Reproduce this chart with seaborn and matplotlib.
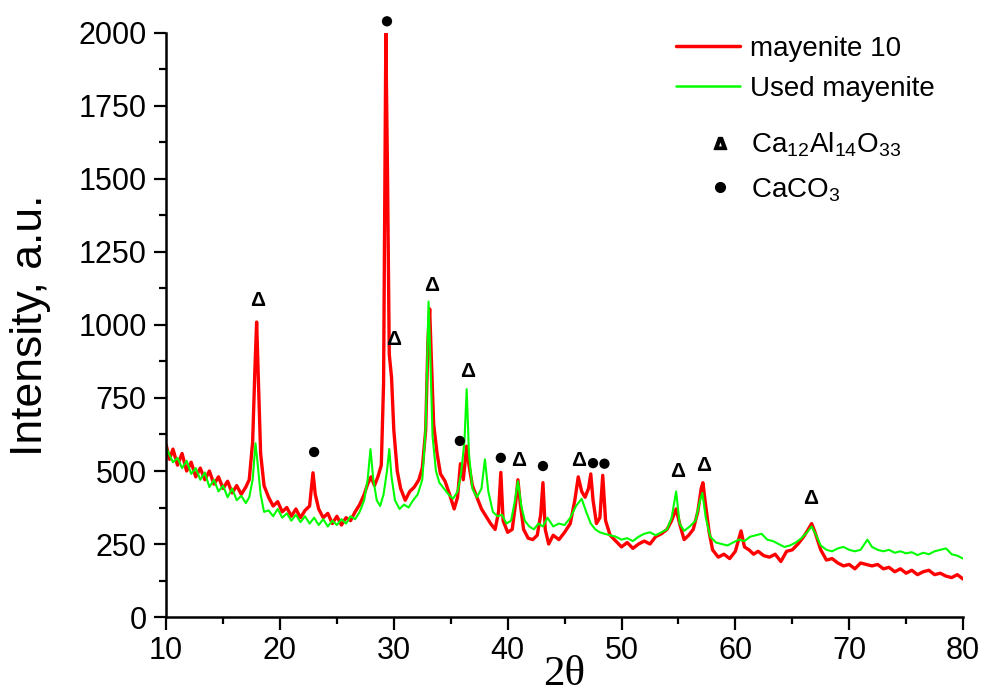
import matplotlib
matplotlib.use('Agg')
import matplotlib.pyplot as plt
import seaborn as sns
from matplotlib.lines import Line2D
from matplotlib.ticker import MultipleLocator

# XRD patterns (2theta, intensity a.u.)
fresh_2t = [10.0, 10.3, 10.6, 11.0, 11.4, 11.8, 12.2, 12.6, 13.0, 13.4, 13.8, 14.2, 14.6, 15.0,
            15.4, 15.8, 16.2, 16.6, 17.0, 17.3, 17.6, 17.8, 17.95, 18.1, 18.3, 18.6, 19.0, 19.4,
            19.8, 20.2, 20.6, 21.0, 21.4, 21.8, 22.2, 22.6, 22.9, 23.1, 23.4, 23.8, 24.2, 24.6,
            25.0, 25.4, 25.8, 26.2, 26.6, 27.0, 27.4, 27.7, 28.0, 28.3, 28.6, 28.9, 29.1, 29.3,
            29.45, 29.6, 29.8, 30.0, 30.3, 30.6, 31.0, 31.4, 31.8, 32.2, 32.5, 32.8, 33.0, 33.15,
            33.3, 33.5, 33.8, 34.1, 34.5, 34.9, 35.3, 35.6, 35.85, 36.1, 36.4, 36.6, 36.9, 37.3,
            37.7, 38.1, 38.5, 38.9, 39.2, 39.4, 39.6, 40.0, 40.4, 40.7, 40.9, 41.1, 41.4, 41.8,
            42.2, 42.6, 42.9, 43.1, 43.3, 43.6, 44.0, 44.5, 45.0, 45.5, 45.9, 46.2, 46.5, 46.8,
            47.1, 47.3, 47.5, 47.8, 48.1, 48.35, 48.6, 49.0, 49.5, 50.0, 50.5, 51.0, 51.5, 52.0,
            52.5, 53.0, 53.5, 54.0, 54.4, 54.8, 55.1, 55.5, 55.9, 56.3, 56.7, 57.0, 57.15, 57.4,
            57.7, 58.0, 58.5, 59.0, 59.5, 60.0, 60.5, 60.8, 61.2, 61.6, 62.0, 62.5, 63.0, 63.5,
            64.0, 64.5, 65.0, 65.5, 66.0, 66.4, 66.7, 67.0, 67.5, 68.0, 68.5, 69.0, 69.5, 70.0,
            70.5, 71.0, 71.5, 72.0, 72.5, 73.0, 73.5, 74.0, 74.5, 75.0, 75.5, 76.0, 76.5, 77.0,
            77.5, 78.0, 78.5, 79.0, 79.5, 80.0]
fresh_int = [590, 540, 575, 520, 560, 500, 530, 480, 510, 470, 500, 455, 480, 440,
             465, 425, 450, 420, 445, 470, 600, 850, 1010, 820, 560, 450, 410, 380,
             395, 360, 375, 345, 370, 340, 365, 380, 494, 420, 370, 340, 355, 320,
             345, 315, 340, 330, 360, 385, 420, 455, 480, 450, 480, 520, 800, 2000,
             1500, 900, 820, 640, 500, 440, 400, 430, 445, 470, 510, 640, 950, 1055,
             880, 660, 560, 490, 465, 420, 370, 410, 525, 470, 585, 520, 450, 410,
             370, 345, 320, 300, 360, 495, 330, 290, 300, 390, 470, 390, 300, 270,
             265, 280, 350, 460, 300, 250, 280, 265, 290, 320, 400, 480, 430, 410,
             440, 490, 400, 320, 340, 485, 330, 280, 260, 240, 255, 235, 250, 260,
             250, 275, 285, 300, 330, 370, 320, 265, 280, 300, 360, 440, 460, 380,
             290, 230, 205, 215, 200, 225, 295, 240, 230, 215, 225, 210, 205, 215,
             190, 225, 230, 250, 275, 300, 320, 290, 230, 195, 200, 185, 175, 180,
             165, 185, 180, 175, 180, 165, 170, 155, 165, 150, 160, 145, 155, 160,
             145, 150, 140, 135, 145, 130]

used_2t = [10.0, 10.3, 10.6, 11.0, 11.4, 11.8, 12.2, 12.6, 13.0, 13.4, 13.8, 14.2, 14.6, 15.0,
           15.4, 15.8, 16.2, 16.6, 17.0, 17.3, 17.6, 17.85, 18.0, 18.3, 18.6, 19.0, 19.4, 19.8,
           20.2, 20.6, 21.0, 21.4, 21.8, 22.2, 22.6, 23.0, 23.4, 23.8, 24.2, 24.6, 25.0, 25.4,
           25.8, 26.2, 26.6, 27.0, 27.4, 27.7, 27.95, 28.2, 28.5, 28.8, 29.1, 29.4, 29.6, 29.8,
           30.1, 30.5, 30.9, 31.3, 31.7, 32.1, 32.5, 32.8, 33.05, 33.2, 33.4, 33.7, 34.0, 34.4,
           34.8, 35.2, 35.6, 35.9, 36.2, 36.4, 36.6, 36.9, 37.3, 37.7, 38.0, 38.3, 38.7, 39.1,
           39.5, 39.9, 40.3, 40.6, 40.9, 41.2, 41.5, 41.9, 42.3, 42.7, 43.1, 43.5, 44.0, 44.5,
           45.0, 45.5, 46.0, 46.5, 46.9, 47.3, 47.7, 48.1, 48.5, 49.0, 49.5, 50.0, 50.5, 51.0,
           51.5, 52.0, 52.5, 53.0, 53.5, 54.0, 54.4, 54.8, 55.1, 55.5, 56.0, 56.5, 56.9, 57.1,
           57.4, 57.8, 58.3, 58.8, 59.3, 59.8, 60.3, 60.8, 61.3, 61.8, 62.3, 62.8, 63.3, 63.8,
           64.3, 64.8, 65.3, 65.8, 66.3, 66.7, 67.1, 67.5, 68.0, 68.5, 69.0, 69.5, 70.0, 70.5,
           71.0, 71.6, 72.0, 72.5, 73.0, 73.5, 74.0, 74.5, 75.0, 75.5, 76.0, 76.5, 77.0, 77.5,
           78.0, 78.5, 79.0, 79.5, 80.0]
used_int = [580, 555, 530, 545, 510, 535, 490, 510, 470, 495, 445, 470, 430, 450,
            410, 440, 400, 415, 390, 410, 470, 595, 540, 420, 360, 365, 345, 370,
            340, 355, 330, 350, 325, 345, 320, 340, 315, 335, 310, 330, 315, 335,
            320, 345, 335, 360, 400, 470, 575, 470, 400, 380, 420, 500, 575, 480,
            400, 370, 385, 375, 400, 420, 470, 650, 1080, 900, 620, 500, 460, 440,
            420, 405, 430, 490, 600, 780, 560, 440, 410, 440, 540, 430, 360, 345,
            350, 320, 330, 390, 465, 380, 330, 310, 300, 320, 310, 340, 310, 320,
            315, 340, 380, 405, 360, 320, 300, 290, 285, 280, 275, 265, 270, 260,
            275, 285, 290, 280, 290, 300, 340, 430, 320, 295, 310, 330, 400, 425,
            340, 275, 255, 250, 245, 255, 265, 260, 275, 280, 285, 265, 260, 250,
            240, 245, 255, 270, 290, 310, 280, 245, 230, 225, 235, 240, 230, 225,
            230, 265, 240, 230, 225, 230, 220, 225, 218, 222, 212, 220, 215, 225,
            230, 235, 215, 210, 200]

# phase markers
delta_x = [18.0, 30.0, 33.3, 36.5, 41.0, 46.2, 54.9, 57.2, 66.6]
delta_y = [1085, 950, 1135, 840, 535, 535, 500, 520, 405]
dot_x = [29.4, 23.0, 35.8, 39.4, 43.1, 47.5, 48.5]
dot_y = [2040, 565, 603, 545, 517, 527, 525]

sns.set_style('ticks')
plt.rcParams['font.family'] = ['Liberation Sans', 'DejaVu Sans']
plt.rcParams['mathtext.default'] = 'regular'
for key in ['text.color', 'axes.labelcolor', 'xtick.color', 'ytick.color', 'axes.edgecolor']:
    plt.rcParams[key] = 'black'

fig = plt.figure(figsize=(9.83, 6.96), dpi=100)
ax = fig.add_axes([0.169, 0.1135, 0.8107, 0.8391])

sns.lineplot(x=fresh_2t, y=fresh_int, ax=ax, color='#ff0000', lw=2.4, sort=False)
sns.lineplot(x=used_2t, y=used_int, ax=ax, color='#00ff00', lw=1.5, sort=False)

for x, y in zip(delta_x, delta_y):
    ax.text(x, y, '\u0394', ha='center', va='center', fontsize=15,
            fontweight='bold', color='black')
sns.scatterplot(x=dot_x, y=dot_y, ax=ax, color='black', s=55, edgecolor='none',
                clip_on=False, zorder=5)

ax.set_xlim(10, 80)
ax.set_ylim(0, 2000)
ax.xaxis.set_major_locator(MultipleLocator(10))
ax.xaxis.set_minor_locator(MultipleLocator(5))
ax.yaxis.set_major_locator(MultipleLocator(250))
ax.yaxis.set_minor_locator(MultipleLocator(125))
ax.tick_params(which='major', length=9, width=1.6, labelsize=22, pad=5, direction='out')
ax.tick_params(which='minor', length=5, width=1.6, direction='out')
for side in ['top', 'right']:
    ax.spines[side].set_visible(False)
for side in ['left', 'bottom']:
    ax.spines[side].set_linewidth(1.8)

ax.set_ylabel('Intensity, a.u.', fontsize=32, labelpad=20)
ax.set_xlabel('2\u03b8', fontsize=31, family=['Liberation Serif', 'DejaVu Serif'], labelpad=-8)

h1 = [Line2D([], [], color='#ff0000', lw=2.5), Line2D([], [], color='#00ff00', lw=1.8)]
leg1 = fig.legend(h1, ['mayenite 10', 'Used mayenite'], loc='upper left',
                  bbox_to_anchor=(0.688, 0.948), frameon=False, fontsize=20,
                  handlelength=2.3, handletextpad=0.35, labelspacing=0.5,
                  borderpad=0, borderaxespad=0)
h2 = [Line2D([], [], ls='none', marker='$\\mathbf{\\Delta}$', color='black', markersize=9),
      Line2D([], [], ls='none', marker='o', color='black', markersize=7)]
leg2 = fig.legend(h2, ['Ca$_{12}$Al$_{14}$O$_{33}$', 'CaCO$_3$'], loc='upper left',
                  bbox_to_anchor=(0.716, 0.812), frameon=False, fontsize=20,
                  handlelength=1.2, handletextpad=0.5, labelspacing=0.6,
                  borderpad=0, borderaxespad=0)

fig.savefig('out.png', dpi=100)
